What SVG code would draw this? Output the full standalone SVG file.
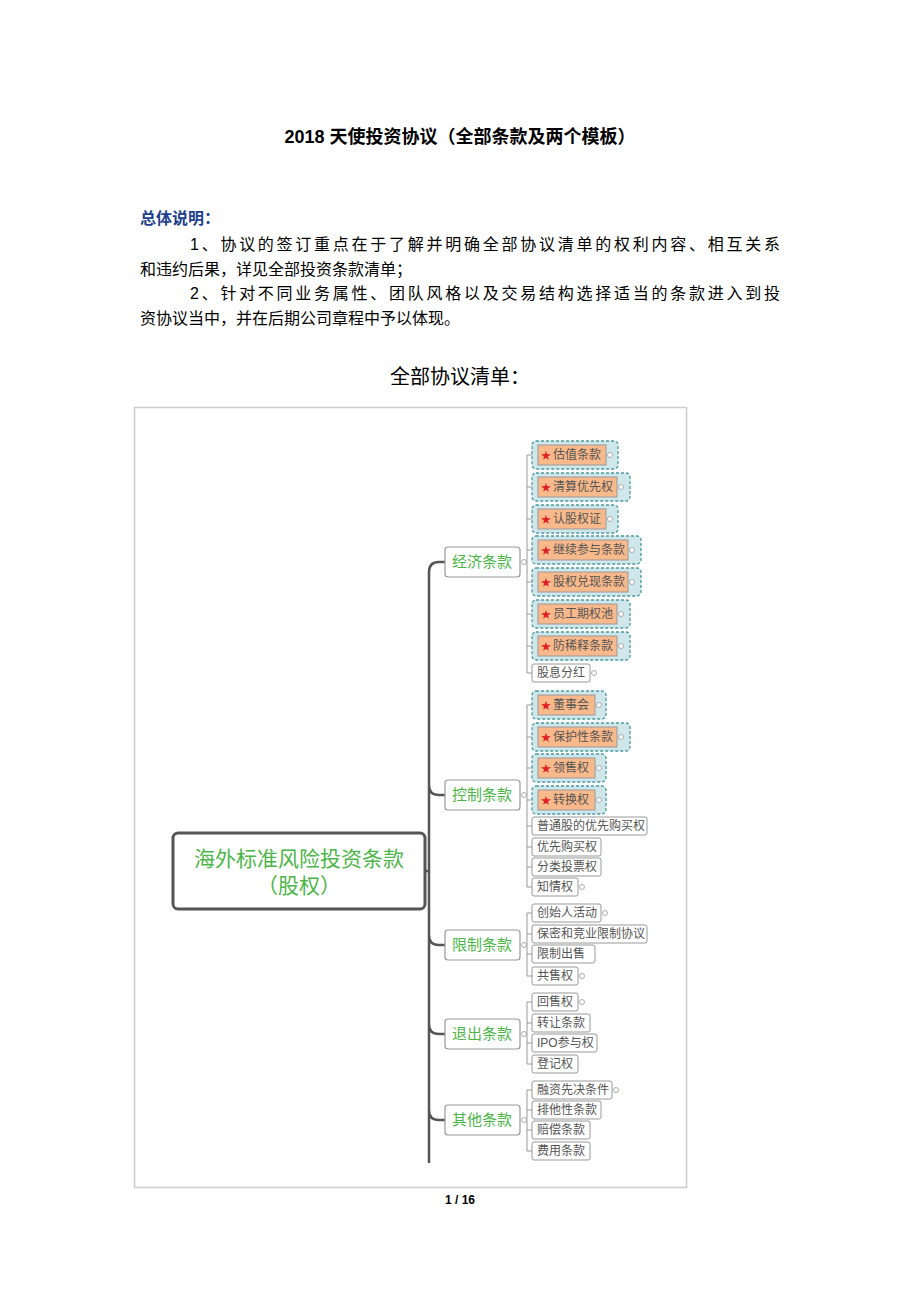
<svg xmlns="http://www.w3.org/2000/svg" width="920" height="1302" viewBox="0 0 920 1302">
<style>
text{font-family:"Liberation Sans","Noto Sans CJK SC",sans-serif}
.hd{font-size:16px;fill:#000}
.cat rect{fill:#fff;stroke:#999;stroke-width:1.2}
.cat text{fill:#4cb648;font-size:15px;text-anchor:middle}
.o{fill:#cfe6ea;stroke:#4a9aa0;stroke-width:1.3;stroke-dasharray:3 2}
.i{fill:#f9b98a;stroke:#999;stroke-width:1}
.p{fill:#fff;stroke:#999;stroke-width:1}
.t{font-size:12px;fill:#555}
.s{fill:#e02020;font-size:10px}
.k{fill:none;stroke:#999;stroke-width:1}
.dot{fill:#fff;stroke:#999;stroke-width:0.8}
</style>
<rect width="920" height="1302" fill="#fff"/>
<text x="460" y="143" text-anchor="middle" font-size="18" font-weight="bold">2018 天使投资协议（全部条款及两个模板）</text>
<text x="140" y="224" font-size="16" font-weight="bold" fill="#1f3f8f">总体说明：</text>
<text class="hd" x="190" y="250" textLength="590" lengthAdjust="spacing">1、协议的签订重点在于了解并明确全部协议清单的权利内容、相互关系</text>
<text class="hd" x="140" y="275">和违约后果，详见全部投资条款清单；</text>
<text class="hd" x="190" y="299" textLength="590" lengthAdjust="spacing">2、针对不同业务属性、团队风格以及交易结构选择适当的条款进入到投</text>
<text class="hd" x="140" y="324">资协议当中，并在后期公司章程中予以体现。</text>
<text x="460" y="384" text-anchor="middle" font-size="20">全部协议清单：</text>
<rect x="134.5" y="407.5" width="552" height="780" fill="#fff" stroke="#ccc" stroke-width="1.5"/>
<text x="460" y="1204" text-anchor="middle" font-size="12" font-weight="bold">1 / 16</text>

<g id="connectors">
<path d="M429 1163 V572 Q429 562 439 562 H445 M429 785 Q429 795 439 795 H445 M429 935 Q429 945 439 945 H445 M429 1024 Q429 1034 439 1034 H445 M429 1110 Q429 1120 439 1120 H445 M425 871 H429" fill="none" stroke="#555" stroke-width="2.5"/>
<g class="k">
<path d="M527 455 V673 M527 455 H532 M527 487 H532 M527 519 H532 M527 550 H532 M527 582 H532 M527 614 H532 M527 646 H532 M527 673 H532"/>
<path d="M527 705 V887 M527 705 H532 M527 737 H532 M527 768 H532 M527 800 H532 M527 826 H532 M527 847 H532 M527 867 H532 M527 887 H532"/>
<path d="M527 913 V976 M527 913 H532 M527 934 H532 M527 954 H532 M527 976 H532"/>
<path d="M527 1002 V1064 M527 1002 H532 M527 1023 H532 M527 1043 H532 M527 1064 H532"/>
<path d="M527 1090 V1151 M527 1090 H532 M527 1110 H532 M527 1130 H532 M527 1151 H532"/>
</g>
<g class="dot"><circle cx="524" cy="562" r="2.5"/><circle cx="524" cy="795" r="2.5"/><circle cx="524" cy="945" r="2.5"/><circle cx="524" cy="1034" r="2.5"/><circle cx="524" cy="1120" r="2.5"/></g>
</g>

<g id="root"><rect x="173" y="833" width="252" height="76" rx="5" fill="#fff" stroke="#555" stroke-width="3"/>
<text x="299" y="866" text-anchor="middle" font-size="21" fill="#4cb648">海外标准风险投资条款</text>
<text x="299" y="893" text-anchor="middle" font-size="21" fill="#4cb648">（股权）</text></g>

<g id="c1" class="cat"><rect x="445" y="547" width="75" height="30" rx="3"/><text x="482" y="567">经济条款</text></g>
<g id="c2" class="cat"><rect x="445" y="780" width="75" height="30" rx="3"/><text x="482" y="800">控制条款</text></g>
<g id="c3" class="cat"><rect x="445" y="930" width="75" height="30" rx="3"/><text x="482" y="950">限制条款</text></g>
<g id="c4" class="cat"><rect x="445" y="1019" width="75" height="30" rx="3"/><text x="482" y="1039">退出条款</text></g>
<g id="c5" class="cat"><rect x="445" y="1105" width="75" height="30" rx="3"/><text x="482" y="1125">其他条款</text></g>

<g id="n1"><rect class="o" x="532" y="441" width="86" height="28" rx="4"/><rect class="i" x="538" y="445" width="68" height="20"/><text class="s" x="541" y="459">★</text><text class="t" x="553" y="459">估值条款</text></g>
<g id="n2"><rect class="o" x="532" y="473" width="98" height="28" rx="4"/><rect class="i" x="538" y="477" width="79" height="20"/><text class="s" x="541" y="491">★</text><text class="t" x="553" y="491">清算优先权</text></g>
<g id="n3"><rect class="o" x="532" y="505" width="86" height="28" rx="4"/><rect class="i" x="538" y="509" width="68" height="20"/><text class="s" x="541" y="523">★</text><text class="t" x="553" y="523">认股权证</text></g>
<g id="n4"><rect class="o" x="532" y="536" width="109" height="28" rx="4"/><rect class="i" x="538" y="540" width="90" height="20"/><text class="s" x="541" y="554">★</text><text class="t" x="553" y="554">继续参与条款</text></g>
<g id="n5"><rect class="o" x="532" y="568" width="109" height="28" rx="4"/><rect class="i" x="538" y="572" width="90" height="20"/><text class="s" x="541" y="586">★</text><text class="t" x="553" y="586">股权兑现条款</text></g>
<g id="n6"><rect class="o" x="532" y="600" width="98" height="28" rx="4"/><rect class="i" x="538" y="604" width="79" height="20"/><text class="s" x="541" y="618">★</text><text class="t" x="553" y="618">员工期权池</text></g>
<g id="n7"><rect class="o" x="532" y="632" width="98" height="28" rx="4"/><rect class="i" x="538" y="636" width="79" height="20"/><text class="s" x="541" y="650">★</text><text class="t" x="553" y="650">防稀释条款</text></g>
<g id="n8"><rect class="p" x="532" y="664" width="58" height="18" rx="2"/><text class="t" x="537" y="677">股息分红</text></g>

<g id="n9"><rect class="o" x="532" y="691" width="74" height="28" rx="4"/><rect class="i" x="538" y="695" width="57" height="20"/><text class="s" x="541" y="709">★</text><text class="t" x="553" y="709">董事会</text></g>
<g id="n10"><rect class="o" x="532" y="723" width="98" height="28" rx="4"/><rect class="i" x="538" y="727" width="79" height="20"/><text class="s" x="541" y="741">★</text><text class="t" x="553" y="741">保护性条款</text></g>
<g id="n11"><rect class="o" x="532" y="754" width="74" height="28" rx="4"/><rect class="i" x="538" y="758" width="57" height="20"/><text class="s" x="541" y="772">★</text><text class="t" x="553" y="772">领售权</text></g>
<g id="n12"><rect class="o" x="532" y="786" width="74" height="28" rx="4"/><rect class="i" x="538" y="790" width="57" height="20"/><text class="s" x="541" y="804">★</text><text class="t" x="553" y="804">转换权</text></g>
<g id="n13"><rect class="p" x="532" y="817" width="115" height="18" rx="2"/><text class="t" x="537" y="830">普通股的优先购买权</text></g>
<g id="n14"><rect class="p" x="532" y="838" width="69" height="18" rx="2"/><text class="t" x="537" y="851">优先购买权</text></g>
<g id="n15"><rect class="p" x="532" y="858" width="69" height="18" rx="2"/><text class="t" x="537" y="871">分类投票权</text></g>
<g id="n16"><rect class="p" x="532" y="878" width="46" height="18" rx="2"/><text class="t" x="537" y="891">知情权</text></g>

<g id="n17"><rect class="p" x="532" y="904" width="69" height="18" rx="2"/><text class="t" x="537" y="917">创始人活动</text></g>
<g id="n18"><rect class="p" x="532" y="925" width="115" height="18" rx="2"/><text class="t" x="537" y="938">保密和竞业限制协议</text></g>
<g id="n19"><rect class="p" x="532" y="945" width="63" height="18" rx="2"/><text class="t" x="537" y="958">限制出售</text></g>
<g id="n20"><rect class="p" x="532" y="967" width="46" height="18" rx="2"/><text class="t" x="537" y="980">共售权</text></g>

<g id="n21"><rect class="p" x="532" y="993" width="46" height="18" rx="2"/><text class="t" x="537" y="1006">回售权</text></g>
<g id="n22"><rect class="p" x="532" y="1014" width="58" height="18" rx="2"/><text class="t" x="537" y="1027">转让条款</text></g>
<g id="n23"><rect class="p" x="532" y="1034" width="65" height="18" rx="2"/><text class="t" x="537" y="1047">IPO参与权</text></g>
<g id="n24"><rect class="p" x="532" y="1055" width="46" height="18" rx="2"/><text class="t" x="537" y="1068">登记权</text></g>

<g id="n25"><rect class="p" x="532" y="1081" width="80" height="18" rx="2"/><text class="t" x="537" y="1094">融资先决条件</text></g>
<g id="n26"><rect class="p" x="532" y="1101" width="69" height="18" rx="2"/><text class="t" x="537" y="1114">排他性条款</text></g>
<g id="n27"><rect class="p" x="532" y="1121" width="58" height="18" rx="2"/><text class="t" x="537" y="1134">赔偿条款</text></g>
<g id="n28"><rect class="p" x="532" y="1142" width="58" height="18" rx="2"/><text class="t" x="537" y="1155">费用条款</text></g>

<g class="dot">
<circle cx="610" cy="455" r="2.5"/><circle cx="621" cy="487" r="2.5"/><circle cx="610" cy="519" r="2.5"/><circle cx="632" cy="550" r="2.5"/><circle cx="632" cy="582" r="2.5"/><circle cx="621" cy="614" r="2.5"/><circle cx="621" cy="646" r="2.5"/><circle cx="594" cy="673" r="2.5"/>
<circle cx="599" cy="705" r="2.5"/><circle cx="621" cy="737" r="2.5"/><circle cx="599" cy="768" r="2.5"/><circle cx="599" cy="800" r="2.5"/><circle cx="582" cy="887" r="2.5"/>
<circle cx="605" cy="913" r="2.5"/><circle cx="582" cy="976" r="2.5"/><circle cx="582" cy="1002" r="2.5"/><circle cx="616" cy="1090" r="2.5"/>
</g>
</svg>
